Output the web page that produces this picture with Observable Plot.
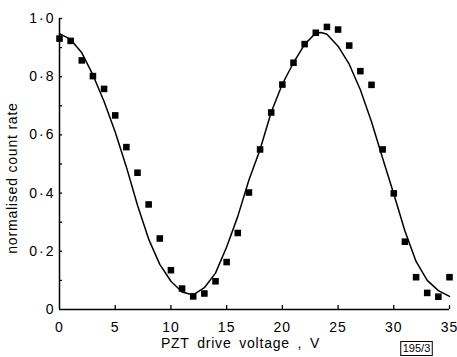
<!DOCTYPE html>
<html>
<head>
<meta charset="utf-8">
<script src="https://cdn.jsdelivr.net/npm/d3@7"></script>
<script src="https://cdn.jsdelivr.net/npm/@observablehq/plot@0.6"></script>
<style>
  html, body { margin: 0; padding: 0; background: #fff; }
</style>
</head>
<body>
<div id="chart"></div>
<script>
// Measured points: PZT drive voltage (V) and normalised count rate
const voltage = [0,1,2,3,4,5,6,7,8,9,10,11,12,13,14,15,16,17,18,19,20,21,22,23,24,25,26,27,28,29,30,31,32,33,34,35];
const countRate = [0.931,0.923,0.856,0.802,0.758,0.667,0.558,0.470,0.361,0.244,0.135,0.072,0.045,0.055,0.097,0.163,0.263,0.402,0.550,0.677,0.773,0.848,0.912,0.951,0.971,0.962,0.907,0.819,0.772,0.550,0.399,0.233,0.111,0.057,0.044,0.111];

// Fitted curve
const fitVoltage = [0,1,2,3,4,5,6,7,8,9,10,11,12,13,14,15,16,17,18,19,20,21,22,23,23.5,24,25,26,27,28,29,30,31,32,33,34,35];
const fitRate = [0.948,0.928,0.882,0.806,0.715,0.610,0.490,0.358,0.242,0.155,0.097,0.060,0.050,0.075,0.125,0.215,0.320,0.445,0.550,0.678,0.775,0.848,0.911,0.950,0.952,0.946,0.905,0.843,0.755,0.645,0.520,0.397,0.270,0.165,0.100,0.065,0.045];

// Tick values / labels
const xTicks = [0,5,10,15,20,25,30,35];
const yLabelTicks = [0,0.2,0.4,0.6,0.8,1.0];
const yMinorTicks = [0.1,0.2,0.3,0.4,0.5,0.6,0.7,0.8,0.9,1.0];
const xLabel = "PZT drive voltage , V";
const yLabel = "normalised count rate";
const figTag = "195/3";

const points = voltage.map((v, i) => ({v, r: countRate[i]}));
const fit = fitVoltage.map((v, i) => ({v, r: fitRate[i]}));

const fmtY = d => d === 0 ? "0" : d.toFixed(1).replace(".", "·");

const chart = Plot.plot({
  width: 457,
  height: 357,
  marginLeft: 59,
  marginRight: 8,
  marginTop: 18,
  marginBottom: 48,
  x: {domain: [0, 35]},
  y: {domain: [0, 1]},
  style: {fontFamily: "'Liberation Sans', Arial, sans-serif", fontSize: "14px", color: "#000", background: "#fff"},
  marks: [
    Plot.axisX({ticks: xTicks, tickSize: 0, tickPadding: 13, tickFormat: d => String(d), label: null}),
    Plot.axisX({ticks: xTicks.filter(d => d > 0), tickSize: -4, tickFormat: () => "", label: null, strokeWidth: 1.3}),
    Plot.axisY({ticks: yLabelTicks, tickSize: 0, tickPadding: 4, tickFormat: fmtY, label: null}),
    Plot.axisY({ticks: yMinorTicks, tickSize: -3, tickFormat: () => "", label: null, strokeWidth: 1.3}),
    Plot.ruleX([0], {y1: 0, y2: 1, strokeWidth: 1.5}),
    Plot.ruleY([0], {strokeWidth: 1.5}),
    Plot.line(fit, {x: "v", y: "r", stroke: "#000", strokeWidth: 1.5}),
    Plot.dot(points, {x: "v", y: "r", symbol: "square", r: 3.7, fill: "#000", stroke: null}),
    Plot.text([yLabel], {frameAnchor: "middle", rotate: -90, fontSize: 14}),
    Plot.text([xLabel], {frameAnchor: "bottom", dx: -14, dy: 38, fontSize: 14}),
    Plot.text([figTag], {frameAnchor: "bottom-right", dx: -33, dy: 42, fontSize: 11})
  ]
});

document.getElementById("chart").appendChild(chart);

const svg = d3.select(chart);
// Letter spacing like the original lettering
svg.selectAll('g[aria-label="y-axis tick label"] text').style("letter-spacing", "2px");
svg.selectAll('g[aria-label="x-axis tick label"] text').style("letter-spacing", "1px");
svg.selectAll("text").filter(function() { return this.textContent === xLabel; })
  .style("letter-spacing", "0.8px").style("word-spacing", "3px").attr("text-anchor", "middle");

// Place the rotated y-axis title at the left edge, centred on the lettering of the original
svg.selectAll("text").filter(function() { return this.textContent === yLabel; }).each(function() {
  d3.select(this.parentNode).attr("transform", null);
  d3.select(this)
    .attr("x", null).attr("y", null).attr("dy", "0.32em")
    .attr("text-anchor", "middle")
    .style("letter-spacing", "0.8px")
    .attr("transform", "translate(13,178) rotate(-90)");
});

// Box round the figure tag
svg.selectAll("text").filter(function() { return this.textContent === figTag; }).each(function() {
  d3.select(this).attr("text-anchor", "middle");
  const b = this.getBBox();
  d3.select(this.parentNode).insert("rect", "text")
    .attr("transform", this.getAttribute("transform"))
    .attr("x", b.x - 2).attr("y", b.y)
    .attr("width", b.width + 4).attr("height", b.height + 2)
    .attr("fill", "none").attr("stroke", "#000").attr("stroke-width", 1);
});
</script>
</body>
</html>
